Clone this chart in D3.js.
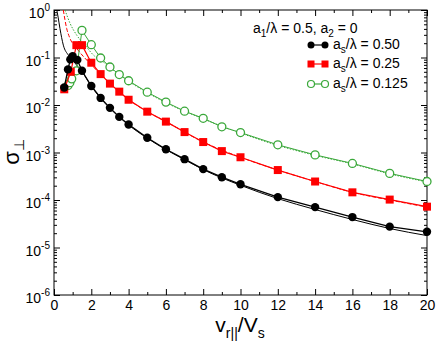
<!DOCTYPE html>
<html>
<head>
<meta charset="utf-8">
<script src="https://cdn.jsdelivr.net/npm/d3@7"></script>
<style>
  body { margin: 0; background: #fff; }
  svg { font-family: "Liberation Sans", Arial, sans-serif; }
</style>
</head>
<body>
<div id="chart-area"></div>
<script>
// sigma_perp vs v_r||/V_s, log y

// series 1: a_s/lambda = 0.50 (filled black circles)
var xBlack = [0.55, 0.75, 0.875, 1.0, 1.25, 1.5, 2, 2.5, 3, 3.5, 4, 5, 6, 7, 8, 9, 10, 12, 14, 16, 18, 20];
var yBlack = [0.0234, 0.0562, 0.0912, 0.107, 0.0891, 0.0525, 0.0251, 0.0141, 0.00871, 0.00562, 0.00389,
    0.00204, 0.00117, 7.24e-4, 4.47e-4, 3.02e-4, 2.14e-4, 1.15e-4, 7.08e-5, 4.37e-5, 2.75e-5, 2.14e-5];
// series 2: a_s/lambda = 0.25 (red squares)
var xRed = [0.55, 0.9, 1.2, 1.5, 2, 2.5, 3, 3.5, 4, 5, 6, 7, 8, 9, 10, 12, 14, 16, 18, 20];
var yRed = [0.0214, 0.0501, 0.182, 0.182, 0.0776, 0.0447, 0.0282, 0.0191, 0.0129, 0.00724, 0.00447,
    0.00269, 0.00166, 0.00107, 7.94e-4, 4.27e-4, 2.45e-4, 1.45e-4, 1.02e-4, 7.24e-5];
// series 3: a_s/lambda = 0.125 (open green circles)
var xGreen = [0.75, 0.85, 0.95, 1.2, 1.5, 2, 2.5, 3, 3.5, 4, 5, 6, 7, 8, 9, 10, 12, 14, 16, 18, 20];
var yGreen = [0.0257, 0.0295, 0.0355, 0.0525, 0.372, 0.186, 0.0977, 0.0631, 0.0437, 0.0324, 0.0186,
    0.0115, 0.00741, 0.00525, 0.00347, 0.00263, 0.00145, 8.91e-4, 5.89e-4, 3.63e-4, 2.45e-4];

// thin curves (no markers)
var xBlackCurve = [0.15, 0.22, 0.32, 0.5, 0.77, 1.13, 1.5, 2, 2.5, 3, 4, 5, 6, 7, 8, 10, 12, 14, 16, 18, 20];
var yBlackCurve = [1.0, 0.708, 0.407, 0.182, 0.112, 0.0759, 0.0501, 0.0251, 0.0138, 0.00851, 0.0038,
    0.002, 0.00115, 7.08e-4, 4.37e-4, 2.04e-4, 1.07e-4, 6.31e-5, 3.89e-5, 2.51e-5, 1.78e-5];
var xRedCurve = [0.5, 0.68, 0.86, 1.22, 1.84, 2.5, 3, 4, 5, 6, 8, 10, 12, 14, 16, 18, 20];
var yRedCurve = [1.0, 0.407, 0.251, 0.155, 0.0813, 0.0447, 0.0282, 0.0129, 0.00724, 0.00447, 0.00166,
    7.94e-4, 4.27e-4, 2.45e-4, 1.45e-4, 1.0e-4, 7.1e-5];
var xGreenCurve = [0.59, 0.86, 1.22, 1.66, 2.2, 2.5, 3, 4, 5, 6, 8, 10, 12, 14, 16, 18, 20];
var yGreenCurve = [1.0, 0.525, 0.295, 0.182, 0.105, 0.089, 0.0617, 0.0316, 0.0182, 0.0112, 0.0051,
    0.00257, 0.00141, 8.7e-4, 5.75e-4, 3.55e-4, 2.4e-4];

var xTicks = [0, 2, 4, 6, 8, 10, 12, 14, 16, 18, 20];
var xMinor = [1, 3, 5, 7, 9, 11, 13, 15, 17, 19];
var yExps = [0, -1, -2, -3, -4, -5, -6];
var legendLabels = ["0.50", "0.25", "0.125"];

var red = "#ff0000", green = "#3aa83a";

var margin = { left: 54, right: 9, top: 10, bottom: 48 },
    width = 436 - margin.left - margin.right,
    height = 343 - margin.top - margin.bottom;

var svg = d3.select("#chart-area").append("svg")
    .attr("width", 436)
    .attr("height", 343);
var g = svg.append("g")
    .attr("transform", "translate(" + margin.left + "," + margin.top + ")");

var x = d3.scaleLinear().domain([0, 20]).range([0, width]);
var y = d3.scaleLog().domain([1e-6, 1]).range([height, 0]);

// minor log ticks
var yMinor = [];
for (var e = -6; e < 0; e++) {
    for (var m = 2; m <= 9; m++) yMinor.push(m * Math.pow(10, e));
}
var yMajor = yExps.map(function(p) { return Math.pow(10, p); });

g.append("clipPath").attr("id", "clip")
    .append("rect").attr("width", width).attr("height", height);

// axes (ticks inward)
function styleAxis(sel) {
    sel.select(".domain").remove();
    sel.selectAll("line").attr("stroke", "#000");
}
g.append("g").attr("transform", "translate(0," + height + ")")
    .call(d3.axisBottom(x).tickValues(xTicks).tickSize(-6).tickPadding(5).tickFormat(d3.format("d")))
    .call(styleAxis)
    .selectAll("text").attr("font-size", "14px").attr("fill", "#000")
        .attr("font-family", "Liberation Sans, Arial, sans-serif");
g.append("g").attr("transform", "translate(0," + height + ")")
    .call(d3.axisBottom(x).tickValues(xMinor).tickSize(-3).tickFormat(""))
    .call(styleAxis);
g.append("g")
    .call(d3.axisTop(x).tickValues(xTicks).tickSize(-6).tickFormat(""))
    .call(styleAxis);
g.append("g")
    .call(d3.axisTop(x).tickValues(xMinor).tickSize(-3).tickFormat(""))
    .call(styleAxis);
g.append("g")
    .call(d3.axisLeft(y).tickValues(yMajor).tickSize(-6).tickFormat(""))
    .call(styleAxis);
g.append("g")
    .call(d3.axisLeft(y).tickValues(yMinor).tickSize(-3).tickFormat(""))
    .call(styleAxis);
g.append("g").attr("transform", "translate(" + width + ",0)")
    .call(d3.axisRight(y).tickValues(yMajor).tickSize(-6).tickFormat(""))
    .call(styleAxis);
g.append("g").attr("transform", "translate(" + width + ",0)")
    .call(d3.axisRight(y).tickValues(yMinor).tickSize(-3).tickFormat(""))
    .call(styleAxis);

// y tick labels 10^n
yExps.forEach(function(p) {
    var t = g.append("text")
        .attr("x", -4)
        .attr("y", y(Math.pow(10, p)) + 8)
        .attr("text-anchor", "end")
        .attr("font-size", "14px")
        .text("10");
    t.append("tspan").attr("dy", -7).attr("font-size", "10px").text(String(p));
});

g.append("rect")
    .attr("width", width).attr("height", height)
    .attr("fill", "none").attr("stroke", "#000").attr("stroke-width", 1);

// helpers
function zip(xs, ys) { return xs.map(function(v, i) { return { x: v, y: ys[i] }; }); }
var line = d3.line().x(function(d) { return x(d.x); }).y(function(d) { return y(d.y); });
var curve = d3.line().curve(d3.curveMonotoneX).x(function(d) { return x(d.x); }).y(function(d) { return y(d.y); });

var plot = g.append("g").attr("clip-path", "url(#clip)");

// thin curves
plot.append("path").attr("d", curve(zip(xBlackCurve, yBlackCurve)))
    .attr("fill", "none").attr("stroke", "#000").attr("stroke-width", 1);
plot.append("path").attr("d", curve(zip(xRedCurve, yRedCurve)))
    .attr("fill", "none").attr("stroke", red).attr("stroke-width", 1).attr("stroke-dasharray", "4,2");
plot.append("path").attr("d", curve(zip(xGreenCurve, yGreenCurve)))
    .attr("fill", "none").attr("stroke", green).attr("stroke-width", 1).attr("stroke-dasharray", "1.5,1.5");

// connected series
var green_d = zip(xGreen, yGreen), red_d = zip(xRed, yRed), black_d = zip(xBlack, yBlack);
g.append("path").attr("d", line(green_d)).attr("fill", "none").attr("stroke", green).attr("stroke-width", 1);
g.selectAll(".gpt").data(green_d).enter().append("circle")
    .attr("cx", function(d) { return x(d.x); }).attr("cy", function(d) { return y(d.y); })
    .attr("r", 4).attr("fill", "#fff").attr("stroke", green).attr("stroke-width", 1.3);

g.append("path").attr("d", line(red_d)).attr("fill", "none").attr("stroke", red).attr("stroke-width", 1.2);
g.selectAll(".rpt").data(red_d).enter().append("rect")
    .attr("x", function(d) { return x(d.x) - 4; }).attr("y", function(d) { return y(d.y) - 4; })
    .attr("width", 8).attr("height", 8).attr("fill", red);

g.append("path").attr("d", line(black_d)).attr("fill", "none").attr("stroke", "#000").attr("stroke-width", 1.3);
g.selectAll(".bpt").data(black_d).enter().append("circle")
    .attr("cx", function(d) { return x(d.x); }).attr("cy", function(d) { return y(d.y); })
    .attr("r", 4.2).attr("fill", "#000");

// legend
var legendY = [35, 54, 74];
legendLabels.forEach(function(lab, i) {
    var lg = g.append("g").attr("transform", "translate(257," + legendY[i] + ")");
    var col = i === 0 ? "#000" : (i === 1 ? red : green);
    lg.append("line").attr("x1", 0).attr("x2", 14).attr("stroke", col).attr("stroke-width", 1.2);
    [0, 14].forEach(function(px) {
        if (i === 0) lg.append("circle").attr("cx", px).attr("r", 3.5).attr("fill", "#000");
        else if (i === 1) lg.append("rect").attr("x", px - 3.5).attr("y", -3.5).attr("width", 7).attr("height", 7).attr("fill", red);
        else lg.append("circle").attr("cx", px).attr("r", 3.5).attr("fill", "#fff").attr("stroke", green).attr("stroke-width", 1.2);
    });
    var t = lg.append("text").attr("x", 22).attr("y", 4).attr("font-size", "14px");
    t.append("tspan").text("a");
    t.append("tspan").attr("dy", 4).attr("font-size", "10px").text("s");
    t.append("tspan").attr("dy", -4).text("/\u03bb = " + lab);
});

// annotation
var ann = g.append("text").attr("x", 199).attr("y", 23).attr("font-size", "14px");
ann.append("tspan").text("a");
ann.append("tspan").attr("dy", 4).attr("font-size", "10px").text("1");
ann.append("tspan").attr("dy", -4).text("/\u03bb = 0.5, a");
ann.append("tspan").attr("dy", 4).attr("font-size", "10px").text("2");
ann.append("tspan").attr("dy", -4).text(" = 0");

// axis labels
var xl = svg.append("text").attr("x", 240).attr("y", 332)
    .attr("text-anchor", "middle").attr("font-size", "21px");
xl.append("tspan").text("v");
xl.append("tspan").attr("dy", 6).attr("font-size", "14px").text("r||");
xl.append("tspan").attr("dy", -6).text("/V");
xl.append("tspan").attr("dy", 6).attr("font-size", "14px").text("s");

var yl = svg.append("text").attr("transform", "translate(19,152) rotate(-90)")
    .attr("text-anchor", "middle").attr("font-size", "22px");
yl.append("tspan").text("\u03c3");
yl.append("tspan").attr("dy", 5).attr("font-size", "14px").text("\u22a5");
</script>
</body>
</html>
